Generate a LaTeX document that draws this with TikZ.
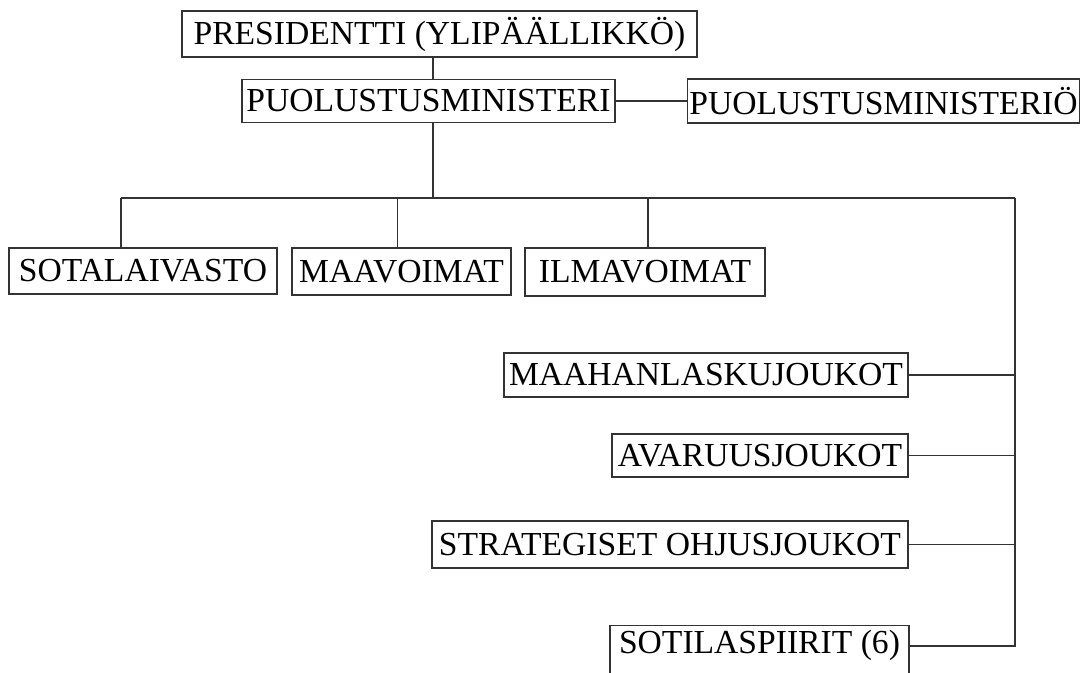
\documentclass[tikz,border=0pt]{standalone}
\usepackage{fontspec}
\setmainfont{Liberation Serif}
\usetikzlibrary{calc}
\tikzset{
  unitbox/.style={
    draw=black!80,
    line width=0.75pt,
    fill=white,
    inner xsep=1pt,
    inner ysep=2pt,
    align=center,
    font=\fontsize{16.8}{19}\selectfont,
  },
  link/.style={draw=black!80, line width=0.75pt},
}

\begin{document}
\begin{tikzpicture}[x=0.5pt, y=-0.5pt]
  \useasboundingbox (0,0) rectangle (1084,673);

  % command chain
  \node[unitbox, minimum width=257.5pt, minimum height=23pt] (pres) at (439.5,34) {PRESIDENTTI (YLIPÄÄLLIKKÖ)};
  \node[unitbox, minimum width=186.5pt, minimum height=21.5pt] (minister) at (428.5,101) {PUOLUSTUSMINISTERI};
  \node[unitbox, minimum width=194.5pt, minimum height=22pt] (ministry) at (883.5,101) {PUOLUSTUSMINISTERIÖ};

  % branches
  \node[unitbox, minimum width=134pt, minimum height=23pt] (navy) at (143,271) {SOTALAIVASTO};
  \node[unitbox, minimum width=109.5pt, minimum height=23.5pt] (army) at (401.5,271.5) {MAAVOIMAT};
  \node[unitbox, minimum width=120pt, minimum height=24pt] (airforce) at (645,272) {ILMAVOIMAT};

  % independent arms
  \node[unitbox, minimum width=202pt, minimum height=22pt] (airborne) at (706,375) {MAAHANLASKUJOUKOT};
  \node[unitbox, minimum width=148pt, minimum height=21.5pt] (space) at (760,455.5) {AVARUUSJOUKOT};
  \node[unitbox, minimum width=238pt, minimum height=23.5pt] (missile) at (670,544.5) {STRATEGISET OHJUSJOUKOT};
  \node[unitbox, minimum width=149.5pt, text depth=20pt, anchor=north] (districts) at (759.5,625) {SOTILASPIIRIT (6)};

  \coordinate (hub) at (433,198);
  \coordinate (busL) at (121,198);
  \coordinate (busR) at (1015,198);
  \coordinate (armydrop) at (397.5,198);
  \coordinate (airdrop) at (648,198);
  \coordinate (districtport) at ($(districts.north east)+(0,21)$);

  \draw[link] (pres.south -| hub) -- (minister.north -| hub);
  \draw[link] (minister.east) -- (ministry.west);
  \draw[link] (minister.south -| hub) -- (hub);
  \draw[link] (busL) -- (busR);
  \draw[link] (busL) -- (navy.north -| busL);
  \draw[link] (armydrop) -- (army.north -| armydrop);
  \draw[link] (airdrop) -- (airforce.north -| airdrop);
  \draw[link] (busR) -- (districtport -| busR) -- (districtport);
  \draw[link] (airborne.east) -- (airborne.east -| busR);
  \draw[link] (space.east) -- (space.east -| busR);
  \draw[link] (missile.east) -- (missile.east -| busR);
\end{tikzpicture}
\end{document}
